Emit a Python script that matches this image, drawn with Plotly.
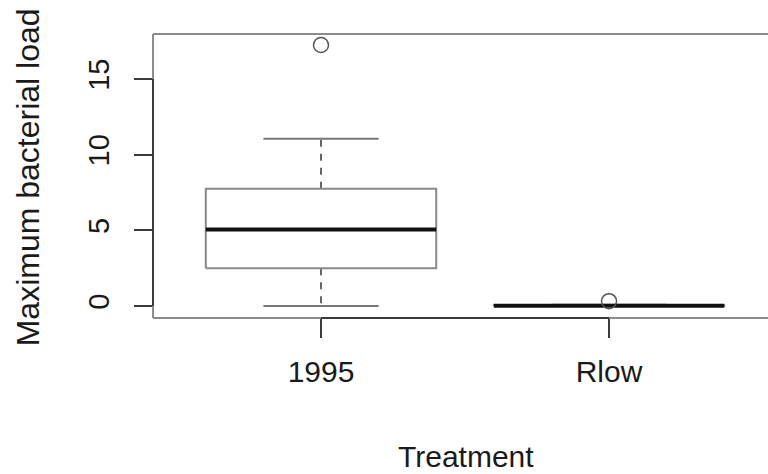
import plotly.graph_objects as go

# ---- data ----
categories = ["1995", "Rlow"]
positions = [1, 2]
q1 = [2.5, 0.0]
median = [5.05, 0.02]
q3 = [7.75, 0.05]
whisker_lo = [0.0, 0.0]
whisker_hi = [11.05, 0.08]
outlier_x = ["1995", "Rlow"]
outlier_y = [17.25, 0.32]
y_ticks = [0, 5, 10, 15]

HALF_BOX = 0.4
HALF_CAP = 0.2
FONT = "Liberation Sans, Arial, sans-serif"

fig = go.Figure()

for cat, p, a, m, b, lo, hi in zip(categories, positions, q1, median, q3, whisker_lo, whisker_hi):
    # whiskers (dashed)
    fig.add_trace(go.Scatter(x=[p, p, None, p, p], y=[b, hi, None, a, lo], mode="lines",
                             line=dict(color="#333333", width=1.5, dash="7px,7px"),
                             showlegend=False, hoverinfo="skip"))
    # caps
    fig.add_trace(go.Scatter(x=[p - HALF_CAP, p + HALF_CAP, None, p - HALF_CAP, p + HALF_CAP],
                             y=[hi, hi, None, lo, lo], mode="lines",
                             line=dict(color="#777777", width=2),
                             showlegend=False, hoverinfo="skip"))
    # box
    fig.add_trace(go.Scatter(x=[p - HALF_BOX, p + HALF_BOX, p + HALF_BOX, p - HALF_BOX, p - HALF_BOX],
                             y=[a, a, b, b, a], mode="lines",
                             line=dict(color="#8a8a8a", width=2),
                             showlegend=False, hoverinfo="skip"))
    # median
    fig.add_trace(go.Scatter(x=[p - HALF_BOX, p + HALF_BOX], y=[m, m], mode="lines",
                             line=dict(color="#111111", width=4),
                             showlegend=False, hoverinfo="skip"))

# outliers
fig.add_trace(go.Scatter(x=[positions[categories.index(c)] for c in outlier_x], y=outlier_y,
                         mode="markers",
                         marker=dict(symbol="circle-open", size=15, color="#555555", line=dict(width=1.5)),
                         showlegend=False, hoverinfo="skip"))

shapes = [
    # frame (left, top, bottom)
    dict(type="line", xref="paper", yref="paper", x0=0, x1=0, y0=0, y1=1, line=dict(color="#8c8c8c", width=2)),
    dict(type="line", xref="paper", yref="paper", x0=0, x1=1, y0=1, y1=1, line=dict(color="#8c8c8c", width=2)),
    dict(type="line", xref="paper", yref="paper", x0=0, x1=1, y0=0, y1=0, line=dict(color="#8c8c8c", width=2)),
    # axis lines
    dict(type="line", xref="x", yref="paper", x0=positions[0], x1=positions[-1], y0=0, y1=0,
         line=dict(color="#3a3a3a", width=2)),
    dict(type="line", xref="paper", yref="y", x0=0, x1=0, y0=y_ticks[0], y1=y_ticks[-1],
         line=dict(color="#3a3a3a", width=2)),
]

fig.update_layout(
    width=768, height=474,
    margin=dict(l=153, r=0, t=34, b=156),
    plot_bgcolor="white", paper_bgcolor="white",
    shapes=shapes,
    font=dict(family=FONT, color="#1a1a1a"),
    xaxis=dict(range=[0.4167, 2.552], tickvals=positions, ticktext=categories,
               ticks="outside", ticklen=19, tickwidth=1.5, tickcolor="#3a3a3a",
               tickfont=dict(size=30, family=FONT, color="#1a1a1a"),
               showgrid=False, zeroline=False, showline=False, ticklabelstandoff=8),
    yaxis=dict(range=[-0.793, 17.974], tickvals=y_ticks, ticktext=[str(v) for v in y_ticks],
               ticks="outside", ticklen=18, tickwidth=1.5, tickcolor="#3a3a3a",
               tickangle=-90, tickfont=dict(size=29, family=FONT, color="#1a1a1a"),
               showgrid=False, zeroline=False, showline=False, ticklabelstandoff=13),
    annotations=[
        dict(text="Treatment", xref="paper", yref="paper", x=0.509, y=-0.489,
             xanchor="center", yanchor="middle", showarrow=False,
             font=dict(size=30, family=FONT, color="#1a1a1a")),
        dict(text="Maximum bacterial load", xref="paper", yref="paper", x=-0.203, y=0.496,
             xanchor="center", yanchor="middle", showarrow=False, textangle=-90,
             font=dict(size=32, family=FONT, color="#1a1a1a")),
    ],
)

fig.write_html("out.html")
